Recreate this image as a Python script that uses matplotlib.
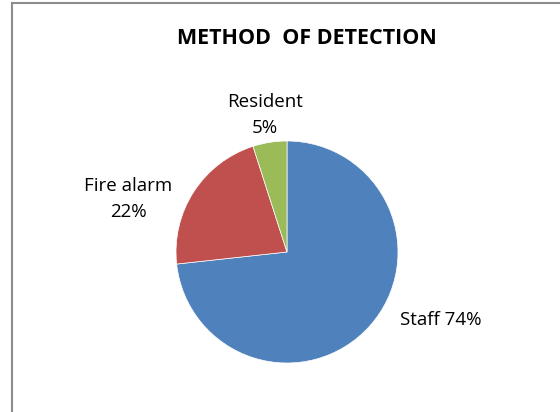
import matplotlib.pyplot as plt
from matplotlib.lines import Line2D

# data
labels = ['Staff', 'Fire alarm', 'Resident']
values = [74, 22, 5]
label_text = ['Staff 74%', 'Fire alarm\n22%', 'Resident\n5%']
colors = ['#4F81BD', '#C0504D', '#9BBB59']

plt.rcParams['font.family'] = ['Open Sans', 'DejaVu Sans']

W, H = 560, 412
fig = plt.figure(figsize=(W/100, H/100), dpi=100)
fig.patch.set_facecolor('white')

# chart border (left and top only visible)
fig.add_artist(Line2D([11.5/W, 11.5/W], [0, 1-3/H], color='#8c8c8c', lw=1.5, transform=fig.transFigure))
fig.add_artist(Line2D([11.5/W, 1], [1-3/H, 1-3/H], color='#8c8c8c', lw=1.5, transform=fig.transFigure))

fig.text(307/W, 1-39/H, 'METHOD  OF DETECTION', ha='center', va='center',
         fontsize=15.5, fontweight='bold')

cx, cy, r = 287, 252, 111
ax = fig.add_axes([(cx-r)/W, (H-cy-r)/H, 2*r/W, 2*r/H])
ax.pie(values, colors=colors, startangle=90, counterclock=False, radius=1,
       wedgeprops=dict(edgecolor='white', linewidth=0.5))
ax.set_xlim(-1, 1)
ax.set_ylim(-1, 1)
ax.set_aspect('auto')
ax.axis('off')

pos = [(441, 320), (128, 199), (265, 115)]
for t, (x, y) in zip(label_text, pos):
    fig.text(x/W, 1-y/H, t, ha='center', va='center', fontsize=13.5, linespacing=1.55)

fig.savefig('out.png', dpi=100)
